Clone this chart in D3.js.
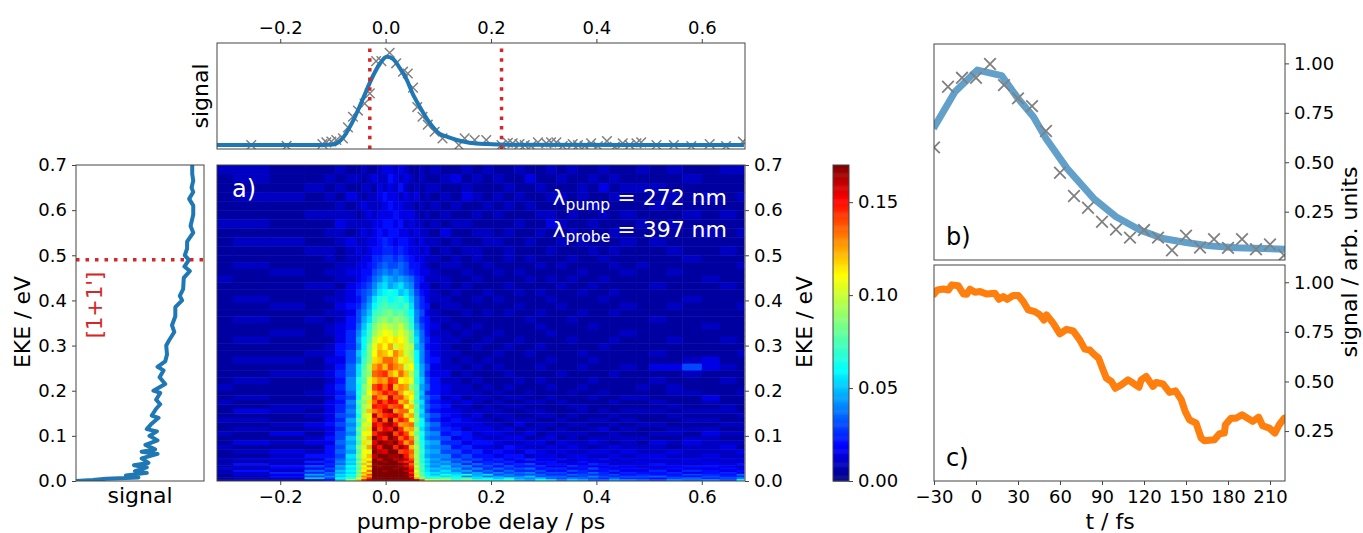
<!DOCTYPE html>
<html>
<head>
<meta charset="utf-8">
<script src="https://cdn.jsdelivr.net/npm/d3@7"></script>
<style>
  body { margin: 0; background: #fff; }
  text { font-family: "DejaVu Sans", sans-serif; fill: #000; }
  .tick text { font-size: 18px; }
  .tick line, .frame { stroke: #444; }
  .domain { display: none; }
</style>
</head>
<body>
<div id="chart"></div>
<script>
// delay trace, panel above the map (ps / norm. signal)
const fitDelay = [-0.32, -0.12, -0.1, -0.082, -0.063, -0.044, -0.025, -0.011, 0.002, 0.013, 0.027, 0.04, 0.051, 0.065, 0.078, 0.089, 0.102, 0.116, 0.135, 0.159, 0.192, 0.241, 0.68];
const fitSignal = [0, 0, 0.005, 0.075, 0.26, 0.51, 0.77, 0.92, 1, 0.98, 0.87, 0.74, 0.585, 0.43, 0.3, 0.21, 0.13, 0.095, 0.057, 0.026, 0.011, 0.004, 0];
const rawDelay = [-0.255, -0.188, -0.12, -0.1125, -0.103, -0.0935, -0.081, -0.0715, -0.062, -0.0525, -0.04, -0.03, -0.018, -0.008, 0.0076, 0.02, 0.033, 0.042, 0.052, 0.06, 0.07, 0.08, 0.093, 0.108, 0.139, 0.15, 0.169, 0.191, 0.22, 0.232, 0.241, 0.254, 0.264, 0.276, 0.289, 0.305, 0.314, 0.324, 0.336, 0.355, 0.365, 0.378, 0.39, 0.403, 0.42, 0.435, 0.45, 0.463, 0.476, 0.485, 0.514, 0.547, 0.58, 0.615, 0.646, 0.678];
const rawSignal = [0, -0.01, 0.01, 0.03, 0.04, 0.057, 0.075, 0.2, 0.32, 0.39, 0.47, 0.585, 0.95, 0.95, 1.045, 0.925, 0.83, 0.81, 0.65, 0.43, 0.32, 0.23, 0.15, 0.075, 0, 0.075, 0.057, 0.057, 0, 0.026, 0.019, 0.011, 0, -0.011, 0.03, 0.019, 0.03, 0.03, -0.011, 0.011, 0, -0.011, 0.019, -0.011, 0.045, -0.02, 0.019, 0, 0.019, 0.03, 0, 0, -0.011, 0.011, -0.011, 0.038];
const delayMarks = [-0.03, 0.22];

// energy trace, panel left of the map
const ekeValues = [0.7, 0.68, 0.665, 0.65, 0.64, 0.625, 0.61, 0.59, 0.565, 0.55, 0.53, 0.515, 0.5, 0.49, 0.475, 0.465, 0.45, 0.425, 0.41, 0.4, 0.385, 0.365, 0.345, 0.33, 0.31, 0.3, 0.28, 0.265, 0.253, 0.245, 0.23, 0.215, 0.2, 0.195, 0.18, 0.17, 0.16, 0.145, 0.14, 0.125, 0.115, 0.11, 0.1, 0.09, 0.08, 0.07, 0.065, 0.06, 0.05, 0.04, 0.035, 0.03, 0.022, 0.018, 0.012, 0.008, 0.005, 0.002, 0];
const ekeSignal = [0.908, 0.908, 0.916, 0.903, 0.916, 0.884, 0.916, 0.916, 0.895, 0.916, 0.868, 0.868, 0.85, 0.882, 0.847, 0.889, 0.842, 0.837, 0.811, 0.829, 0.776, 0.776, 0.75, 0.768, 0.724, 0.705, 0.711, 0.697, 0.637, 0.684, 0.653, 0.697, 0.605, 0.658, 0.626, 0.658, 0.626, 0.592, 0.645, 0.584, 0.553, 0.632, 0.574, 0.637, 0.542, 0.618, 0.513, 0.637, 0.513, 0.566, 0.453, 0.553, 0.461, 0.553, 0.39, 0.487, 0.237, 0.132, 0];
const ekeMark = 0.49;

// panel b
const bFitTime = [-30.4, -15, 1, 18.3, 30, 41, 50, 65, 84, 100, 117, 133.5, 150, 167, 186, 220.7];
const bFitValue = [0.671, 0.857, 0.966, 0.938, 0.823, 0.73, 0.62, 0.469, 0.317, 0.224, 0.157, 0.114, 0.094, 0.077, 0.067, 0.06];
const bRawTime = [-30, -20, -10, 0, 10, 20, 30, 40, 50, 60, 70, 80, 90, 100, 110, 120, 130, 140, 150, 160, 170, 180, 190, 200, 210, 220];
const bRawValue = [0.575, 0.882, 0.927, 0.927, 0.997, 0.89, 0.823, 0.784, 0.658, 0.447, 0.329, 0.27, 0.199, 0.16, 0.119, 0.157, 0.119, 0.055, 0.128, 0.069, 0.111, 0.067, 0.111, 0.06, 0.084, 0.03];

// panel c
const cTime = [-29.9, -27.6, -23.3, -19.7, -17.3, -12.6, -9, -6.7, -4.3, -0.7, 2.9, 7.6, 13.5, 16.4, 19.5, 22.3, 26.6, 30.2, 33.7, 37.3, 42, 45.6, 48.5, 50.4, 55.1, 59.9, 64.6, 69.4, 74.1, 77.7, 81.2, 84.8, 87.6, 90.3, 93.1, 96.7, 99.5, 103.8, 108.6, 112.1, 116.4, 118, 121.6, 126.4, 128.7, 133.5, 138.2, 142.5, 146.6, 149.4, 152.5, 157.2, 160.8, 163.2, 170.3, 173.9, 177.4, 178.1, 182.2, 185.7, 190, 194, 197.6, 201.9, 204.7, 209.5, 213.5, 216.6, 220.2];
const cValue = [0.941, 0.961, 0.966, 0.961, 0.987, 0.982, 0.941, 0.94, 0.965, 0.95, 0.953, 0.941, 0.945, 0.914, 0.928, 0.914, 0.933, 0.933, 0.903, 0.861, 0.852, 0.836, 0.81, 0.836, 0.794, 0.74, 0.763, 0.755, 0.71, 0.663, 0.659, 0.634, 0.617, 0.567, 0.517, 0.5, 0.466, 0.483, 0.508, 0.492, 0.471, 0.508, 0.525, 0.475, 0.495, 0.488, 0.445, 0.453, 0.408, 0.349, 0.307, 0.29, 0.215, 0.201, 0.206, 0.237, 0.24, 0.282, 0.315, 0.315, 0.332, 0.315, 0.299, 0.32, 0.277, 0.265, 0.24, 0.282, 0.315];

// map bins
const delayEdges = [-0.32, -0.29, -0.22, -0.154, -0.116, -0.096, -0.076, -0.056, -0.046, -0.036, -0.026, -0.016, -0.006, 0.004, 0.014, 0.024, 0.034, 0.044, 0.054, 0.064, 0.074, 0.084, 0.104, 0.124, 0.144, 0.164, 0.184, 0.204, 0.224, 0.244, 0.264, 0.284, 0.304, 0.324, 0.344, 0.364, 0.384, 0.404, 0.424, 0.444, 0.476, 0.5, 0.533, 0.563, 0.6, 0.634, 0.666, 0.68];
const energyEdges = [0.7, 0.68, 0.66, 0.64, 0.62, 0.6, 0.58, 0.56, 0.54, 0.52, 0.5, 0.485, 0.47, 0.455, 0.44, 0.425, 0.41, 0.395, 0.38, 0.365, 0.35, 0.335, 0.32, 0.305, 0.29, 0.275, 0.26, 0.245, 0.23, 0.215, 0.2, 0.19, 0.18, 0.17, 0.16, 0.15, 0.14, 0.13, 0.12, 0.11, 0.1, 0.09, 0.08, 0.07, 0.06, 0.05, 0.045, 0.04, 0.035, 0.03, 0.025, 0.02, 0.016, 0.012, 0.008, 0.004, 0];

// map values, top row first, in steps of 0.005
const mapStep = 0.005;
const mapRows = [
  [2,2,1,1,1,2,1,1,2,1,1,2,3,3,2,3,2,1,1,2,1,2,1,1,2,1,2,1,1,2,1,1,2,1,2,1,1,2,1,1,2,1,2,1,1,2,2],
  [1,2,1,1,2,1,2,2,1,2,3,2,2,4,3,2,3,2,1,2,1,1,2,3,1,2,1,2,1,1,3,1,1,2,1,1,2,1,2,1,1,1,1,2,1,1,1],
  [1,1,1,2,1,2,1,1,2,2,1,3,2,3,2,4,2,1,2,1,2,2,1,1,2,1,1,1,2,1,1,2,1,1,1,2,1,3,1,2,2,2,1,1,1,1,1],
  [1,2,2,1,2,1,3,2,1,2,2,3,4,3,3,2,3,2,3,1,2,1,2,1,3,2,1,2,1,2,1,1,2,2,1,2,1,1,2,1,1,1,2,1,2,1,2],
  [1,1,1,1,1,2,1,2,3,2,2,2,3,4,3,3,2,2,1,2,1,2,1,2,1,1,2,1,2,1,2,1,1,1,1,1,2,1,1,1,1,2,1,1,1,1,1],
  [1,1,1,2,2,2,2,1,2,3,2,3,3,3,4,3,3,3,2,1,2,1,2,1,1,2,1,2,1,1,1,2,2,1,2,1,1,2,1,2,1,1,1,2,1,2,1],
  [2,2,1,1,1,3,2,2,2,2,3,3,4,4,3,4,2,3,2,2,1,2,1,2,2,1,1,1,1,2,1,1,3,2,1,1,2,1,1,1,2,1,2,1,1,1,1],
  [1,1,1,1,2,2,1,2,3,2,3,4,3,4,4,3,3,2,3,2,2,1,3,1,1,2,2,1,2,1,1,2,1,1,2,1,1,1,2,1,1,1,1,1,2,1,2],
  [1,2,2,1,1,2,3,2,2,3,3,4,5,4,3,4,4,3,2,3,2,2,1,2,1,1,2,2,1,1,2,1,1,2,1,2,1,1,1,2,1,2,1,1,1,1,1],
  [1,1,1,2,2,1,2,3,2,3,4,4,5,5,4,5,4,3,3,2,3,1,2,1,2,2,1,1,2,1,1,1,2,1,1,1,2,1,2,1,1,1,2,1,1,2,1],
  [1,1,1,1,2,1,2,2,3,3,5,5,6,6,5,6,5,4,3,3,2,2,1,2,1,2,1,1,2,1,2,1,1,1,2,1,1,2,1,1,1,1,1,2,1,1,1],
  [1,2,1,1,1,2,2,3,3,4,5,6,7,6,6,7,6,4,4,3,2,1,2,2,1,1,2,1,1,1,1,2,1,2,1,1,1,1,2,1,2,1,1,1,1,1,2],
  [1,1,2,1,2,2,3,3,4,4,6,7,8,7,8,7,6,5,4,3,3,2,1,1,2,1,1,2,1,2,1,1,1,1,1,2,1,1,1,2,1,1,2,1,1,1,1],
  [2,1,1,1,1,2,2,3,4,5,7,8,10,9,8,9,8,7,5,4,2,2,2,1,1,2,1,1,1,1,2,1,2,1,2,1,1,2,1,1,1,1,1,1,2,1,1],
  [1,1,1,2,2,1,3,4,5,6,8,10,11,9,10,11,9,8,5,3,3,1,2,1,2,1,1,1,2,1,1,1,1,2,1,1,2,1,1,1,1,2,1,1,1,2,1],
  [1,1,1,1,1,2,3,5,6,7,9,11,12,13,12,10,11,9,6,4,3,2,1,2,1,1,2,1,1,2,1,2,1,1,1,2,1,1,2,1,1,1,1,1,1,1,1],
  [1,2,1,1,2,2,3,4,6,8,11,13,14,12,13,14,12,10,7,5,3,2,2,1,1,2,1,2,1,1,1,1,2,1,1,1,1,2,1,1,1,1,1,2,1,1,1],
  [1,1,2,1,1,3,4,5,7,9,12,14,15,14,14,13,15,11,7,5,4,1,2,2,1,1,1,1,1,2,1,1,1,2,1,1,1,1,1,2,1,1,2,1,1,1,2],
  [1,1,1,1,2,2,3,6,8,10,14,15,16,17,15,16,14,12,8,6,3,2,1,1,2,1,2,1,2,1,1,2,1,1,1,2,1,1,2,1,1,1,1,1,1,1,1],
  [1,2,1,2,1,2,4,6,9,11,15,17,18,16,18,17,16,13,8,5,4,2,2,1,1,1,1,1,1,1,2,1,1,1,2,1,1,1,1,1,1,2,1,1,1,1,1],
  [1,1,1,1,2,3,4,7,10,13,17,19,20,19,18,20,17,14,9,6,4,3,1,2,1,2,1,1,1,1,1,2,1,1,1,1,2,1,1,1,1,1,1,1,2,1,1],
  [1,1,2,1,2,3,5,8,11,14,18,20,22,21,19,21,19,16,10,7,4,2,2,1,2,1,1,2,1,1,1,1,2,1,1,1,1,1,1,2,1,1,1,1,1,1,1],
  [1,2,1,1,1,3,5,9,12,15,20,22,23,22,23,22,20,16,11,7,5,3,2,2,1,1,2,1,1,2,1,1,1,1,2,1,1,1,2,1,1,1,2,1,1,2,1],
  [1,1,1,1,2,4,5,8,12,17,21,24,22,25,20,23,20,19,10,8,4,3,2,1,1,2,1,1,2,1,1,2,1,1,1,1,1,2,1,1,1,1,1,1,1,1,1],
  [1,1,1,2,2,4,6,10,13,17,22,25,24,22,26,24,20,18,12,8,5,3,2,2,1,1,1,2,1,1,2,1,1,1,1,2,1,1,1,1,1,2,1,1,1,1,2],
  [1,2,2,1,3,3,6,9,14,17,23,24,27,27,25,21,23,19,12,8,5,4,2,1,2,1,2,1,1,1,1,1,2,1,1,1,2,1,1,1,1,1,1,2,3,1,1],
  [1,1,1,1,2,4,7,11,15,19,25,27,24,28,26,25,20,22,13,9,6,3,2,2,1,2,1,2,1,1,1,2,1,1,1,2,1,1,1,2,1,3,3,6,3,2,1],
  [1,1,2,2,3,5,7,11,16,18,27,28,29,25,23,27,24,19,14,9,5,3,3,1,2,1,1,1,2,1,1,1,1,2,1,1,1,1,2,1,1,1,1,2,1,1,1],
  [1,2,1,1,2,4,8,13,15,21,24,26,25,29,28,22,23,21,13,10,6,4,2,2,1,2,1,1,1,2,1,2,1,1,1,1,2,1,1,1,1,2,1,1,1,2,1],
  [2,1,1,1,3,5,8,12,17,20,28,30,27,31,24,26,25,18,15,9,7,4,3,2,2,1,2,1,2,1,1,1,2,1,1,2,1,1,1,1,2,1,2,1,1,1,1],
  [1,1,1,2,3,4,7,13,16,22,25,27,30,28,29,25,21,23,14,10,5,4,3,2,2,2,1,2,1,1,2,1,1,1,2,1,1,2,1,1,1,1,2,2,1,1,2],
  [1,2,1,1,2,5,6,12,19,19,29,26,25,32,27,28,24,22,15,9,7,5,2,3,1,2,2,1,2,2,1,1,2,1,1,1,2,1,1,2,2,1,1,1,3,1,1],
  [2,1,1,1,3,4,8,15,17,23,27,31,28,31,30,24,26,20,14,11,6,4,3,2,3,2,1,2,1,1,2,2,1,2,1,1,1,1,2,1,1,2,1,1,2,1,1],
  [1,1,2,2,3,5,7,13,19,20,30,29,30,27,28,29,22,24,16,10,7,5,4,2,2,1,2,1,2,2,1,1,1,1,2,2,1,1,1,1,1,1,2,1,1,2,1],
  [1,3,2,1,3,5,8,14,18,24,26,28,32,33,25,27,27,21,15,11,6,4,3,3,2,2,2,2,1,1,2,2,1,1,1,2,1,2,1,2,2,2,1,2,2,2,1],
  [1,1,1,2,3,6,7,12,20,21,32,27,29,30,31,28,23,25,16,10,8,6,4,3,2,3,1,2,2,1,1,2,2,1,2,1,1,1,2,1,1,1,2,1,1,1,2],
  [2,2,1,1,3,5,9,15,18,22,28,33,27,34,26,30,28,22,17,12,7,5,3,4,3,2,2,1,2,2,2,1,1,2,1,1,2,2,1,2,1,1,1,2,2,1,1],
  [1,1,2,3,4,6,8,13,21,20,31,29,32,33,30,25,26,27,15,12,9,7,4,3,3,3,2,2,1,3,1,2,2,1,2,2,1,1,2,1,2,2,1,1,1,2,2],
  [1,2,1,2,3,5,9,16,19,23,33,28,31,30,34,29,24,25,18,11,8,6,5,4,2,3,3,2,3,1,2,2,1,2,1,1,2,3,1,2,1,1,2,2,2,1,1],
  [2,1,3,1,3,6,8,14,22,21,29,32,33,35,28,31,28,23,16,13,9,8,4,5,4,2,3,3,2,2,3,1,2,2,2,2,1,1,2,1,1,2,2,1,3,2,2],
  [1,1,1,2,4,6,10,16,20,24,34,31,29,34,32,27,30,26,18,12,8,7,6,3,4,3,2,2,3,3,1,2,3,1,2,1,2,2,2,2,2,1,1,2,2,1,1],
  [1,3,2,3,3,7,9,14,23,20,31,34,33,32,35,30,25,28,17,13,10,9,5,5,3,4,4,3,2,2,3,3,1,3,2,2,3,2,1,2,1,3,2,3,2,2,2],
  [2,1,1,1,4,6,10,17,20,25,33,30,35,34,29,33,31,24,19,13,9,8,7,4,5,3,3,2,4,3,2,2,3,2,3,2,1,2,3,2,2,2,1,2,2,3,1],
  [1,2,3,2,4,7,9,15,22,21,35,32,31,35,34,28,29,27,18,14,10,9,6,6,4,5,3,4,3,2,4,3,2,3,2,2,3,3,2,3,2,2,3,2,2,2,3],
  [1,1,2,4,4,6,11,17,21,24,32,34,35,33,33,35,30,26,19,13,9,8,8,5,6,4,4,3,4,4,2,3,3,2,3,3,2,2,3,2,3,3,2,2,3,2,2],
  [2,3,3,2,5,7,10,14,23,22,35,31,34,35,32,33,32,28,18,14,11,9,7,7,5,6,4,5,3,4,5,3,3,4,2,3,3,4,2,3,2,3,3,3,2,3,3],
  [1,1,2,5,4,8,11,18,20,25,34,35,33,34,35,31,29,30,20,13,10,8,9,6,7,4,5,4,5,3,3,4,4,2,3,4,3,2,3,2,3,2,2,3,3,2,2],
  [2,4,2,3,5,7,10,15,24,21,33,34,35,35,34,35,33,27,17,15,11,9,8,8,5,7,5,6,4,5,6,3,4,4,3,3,5,4,2,3,3,4,3,2,3,3,4],
  [1,2,4,6,4,9,12,17,21,26,35,33,35,34,35,33,31,29,21,14,10,8,10,7,8,5,6,4,6,4,4,5,3,3,5,4,3,3,4,3,2,3,3,4,4,3,2],
  [3,2,3,4,6,8,11,15,23,22,34,35,35,35,33,35,34,30,18,15,11,10,9,9,6,8,5,7,5,6,7,4,5,5,3,4,6,4,3,4,4,3,4,3,3,4,3],
  [1,4,2,7,5,10,12,18,22,27,35,34,33,35,35,35,32,31,22,14,11,9,11,8,9,6,7,5,7,5,5,6,4,4,6,5,4,4,5,3,3,5,3,5,4,3,4],
  [2,2,5,5,7,9,11,15,25,23,35,35,35,35,35,34,35,29,19,16,12,11,10,10,7,9,6,8,6,7,8,5,6,6,4,5,7,5,3,5,4,4,5,3,4,5,3],
  [1,3,3,9,6,11,13,19,23,28,35,35,35,35,35,35,33,32,23,15,12,10,13,11,13,9,11,6,8,6,6,7,5,5,7,6,5,5,6,4,5,4,4,6,5,4,7],
  [1,1,4,6,8,10,12,16,26,25,35,35,35,35,35,35,35,30,20,17,13,12,11,12,8,10,7,9,7,8,10,6,7,7,5,6,8,6,5,6,6,7,5,4,6,5,5],
  [1,2,2,10,6,12,14,20,24,30,35,35,35,35,35,35,35,33,25,17,13,14,16,13,15,11,12,10,12,9,8,10,7,6,8,7,6,5,7,5,5,4,6,7,5,6,8],
  [1,1,1,2,4,10,18,24,30,33,35,35,35,35,35,35,35,35,34,28,22,20,18,15,16,14,13,12,14,10,9,12,11,8,10,9,7,7,9,8,7,6,8,7,8,6,12],
];

const delayTicks = [-0.2, 0, 0.2, 0.4, 0.6];
const ekeTicks = [0, 0.1, 0.2, 0.3, 0.4, 0.5, 0.6, 0.7];
const barTicks = [0, 0.05, 0.1, 0.15];
const timeTicks = [-30, 0, 30, 60, 90, 120, 150, 180, 210];
const unitTicks = [0.25, 0.5, 0.75, 1];

const jetStops = ['#00007f', '#0000ff', '#00ffff', '#7fff7f', '#ffff00', '#ff0000', '#7f0000'];
const jetAt = [0, 0.11, 0.35, 0.5, 0.65, 0.89, 1];

const width = 1363;
const height = 533;
const blue = '#1f77b4';
const orange = '#ff7f0e';
const red = '#d62728';
const gray = '#808080';

const svg = d3
  .select('#chart')
  .append('svg')
  .attr('width', width)
  .attr('height', height)
  .style('display', 'block');

const jet = d3
  .scaleLinear()
  .domain(jetAt.map((d) => d * 0.17))
  .range(jetStops)
  .clamp(true);

// Scales
const xDelay = d3.scaleLinear().domain([-0.32, 0.682]).range([217, 745]);
const yEke = d3.scaleLinear().domain([0, 0.7]).range([481, 165]);
const xTrace = d3.scaleLinear().domain([0, 1]).range([76, 204]);
const yTop = d3.scaleLinear().domain([-0.045, 1.155]).range([149, 43]);
const xTime = d3.scaleLinear().domain([-30, 220.7]).range([934, 1285]);
const yB = d3.scaleLinear().domain([0.0056, 1.098]).range([260, 44]);
const yC = d3.scaleLinear().domain([-0.0016, 1.087]).range([481, 265]);
const yBar = d3.scaleLinear().domain([0, 0.17]).range([481, 165]);

function addClip(id, x, y, w, h) {
  svg.append('clipPath').attr('id', id).append('rect')
    .attr('x', x).attr('y', y).attr('width', w).attr('height', h);
}

function addFrame(x, y, w, h) {
  svg.append('rect').attr('class', 'frame')
    .attr('x', x).attr('y', y).attr('width', w).attr('height', h)
    .attr('fill', 'none').attr('stroke-width', 1);
}

function addAxis(axis, x, y) {
  svg.append('g').attr('transform', `translate(${x},${y})`).call(axis);
}

function addLabel(txt, x, y, size, rotate) {
  const t = svg.append('text')
    .attr('text-anchor', 'middle')
    .attr('font-size', size)
    .text(txt);
  if (rotate) t.attr('transform', `translate(${x},${y}) rotate(-90)`);
  else t.attr('x', x).attr('y', y);
  return t;
}

addClip('clipTop', 217, 43, 528, 106);
addClip('clipMain', 217, 165, 528, 316);
addClip('clipLeft', 76, 165, 128, 316);
addClip('clipB', 934, 44, 351, 216);
addClip('clipC', 934, 265, 351, 216);

// the source picture is slightly soft, map included
svg.append('filter').attr('id', 'soft')
  .append('feGaussianBlur').attr('stdDeviation', 0.45);

// Main map
const cells = mapRows.flatMap((row, i) =>
  row.map((v, j) => ({
    x0: delayEdges[j],
    x1: delayEdges[j + 1],
    y0: energyEdges[i],
    y1: energyEdges[i + 1],
    value: v * mapStep,
  })),
);

svg.append('g')
  .attr('clip-path', 'url(#clipMain)')
  .append('g')
  .attr('filter', 'url(#soft)')
  .selectAll('rect')
  .data(cells)
  .enter()
  .append('rect')
  .attr('x', (d) => xDelay(d.x0))
  .attr('y', (d) => yEke(d.y0))
  .attr('width', (d) => xDelay(d.x1) - xDelay(d.x0) + 0.5)
  .attr('height', (d) => yEke(d.y1) - yEke(d.y0) + 0.5)
  .attr('fill', (d) => jet(d.value));

addFrame(217, 165, 528, 316);
addAxis(d3.axisBottom(xDelay).tickValues(delayTicks).tickFormat(d3.format('.1f')).tickSize(4).tickPadding(5), 0, 481);
addAxis(d3.axisRight(yEke).tickValues(ekeTicks).tickFormat(d3.format('.1f')).tickSize(4).tickPadding(5), 745, 0);
addLabel('pump-probe delay / ps', 481, 529, 22);
addLabel('EKE / eV', 812, 322, 22, true);

svg.append('text').attr('x', 232).attr('y', 197).attr('font-size', 24)
  .style('fill', '#fff').text('a)');

const lambdaRows = [
  { sub: 'pump', rest: ' = 272 nm', y: 205 },
  { sub: 'probe', rest: ' = 397 nm', y: 237 },
];
lambdaRows.forEach((d) => {
  const t = svg.append('text').attr('x', 727).attr('y', d.y)
    .attr('text-anchor', 'end').attr('font-size', 22).style('fill', '#fff');
  t.append('tspan').style('fill', '#fff').text('λ');
  t.append('tspan').style('fill', '#fff').attr('dy', 5).attr('font-size', 15.5).text(d.sub);
  t.append('tspan').style('fill', '#fff').attr('dy', -5).text(d.rest);
});

// Top panel
const lineTop = d3.line()
  .x((d) => xDelay(d[0]))
  .y((d) => yTop(d[1]))
  .curve(d3.curveMonotoneX);

const gTop = svg.append('g').attr('clip-path', 'url(#clipTop)');
gTop.selectAll('path.raw')
  .data(d3.zip(rawDelay, rawSignal))
  .enter()
  .append('path')
  .attr('class', 'raw')
  .attr('d', d3.symbol(d3.symbolTimes, 62))
  .attr('transform', (d) => `translate(${xDelay(d[0])},${yTop(d[1])})`)
  .attr('fill', 'none')
  .attr('stroke', gray)
  .attr('stroke-width', 1.5);
gTop.append('path')
  .attr('d', lineTop(d3.zip(fitDelay, fitSignal)))
  .attr('fill', 'none')
  .attr('stroke', blue)
  .attr('stroke-width', 4);
gTop.selectAll('line.mark')
  .data(delayMarks)
  .enter()
  .append('line')
  .attr('class', 'mark')
  .attr('x1', (d) => xDelay(d))
  .attr('x2', (d) => xDelay(d))
  .attr('y1', 149)
  .attr('y2', 43)
  .attr('stroke', red)
  .attr('stroke-width', 3.5)
  .attr('stroke-dasharray', '3.5 6.2');

addFrame(217, 43, 528, 106);
addAxis(d3.axisTop(xDelay).tickValues(delayTicks).tickFormat(d3.format('.1f')).tickSize(4).tickPadding(5), 0, 43);
addLabel('signal', 208, 96, 22, true);

// Left panel
const lineLeft = d3.line()
  .x((d) => xTrace(d[1]))
  .y((d) => yEke(d[0]));

const gLeft = svg.append('g').attr('clip-path', 'url(#clipLeft)');
gLeft.append('path')
  .attr('d', lineLeft(d3.zip(ekeValues, ekeSignal)))
  .attr('fill', 'none')
  .attr('stroke', blue)
  .attr('stroke-width', 4)
  .attr('stroke-linejoin', 'round');
gLeft.append('line')
  .attr('x1', 76)
  .attr('x2', 204)
  .attr('y1', yEke(ekeMark))
  .attr('y2', yEke(ekeMark))
  .attr('stroke', red)
  .attr('stroke-width', 3.5)
  .attr('stroke-dasharray', '3.5 6');

addFrame(76, 165, 128, 316);
addAxis(d3.axisLeft(yEke).tickValues(ekeTicks).tickFormat(d3.format('.1f')).tickSize(4).tickPadding(5), 76, 0);
addLabel('signal', 140, 503, 22);
addLabel('EKE / eV', 30, 322, 22, true);
addLabel("[1+1']", 102, 305, 21, true).style('fill', red);

// Colour bar
const barSteps = d3.range(0, 0.17, 0.0005);
svg.append('g')
  .selectAll('rect')
  .data(barSteps)
  .enter()
  .append('rect')
  .attr('x', 833)
  .attr('y', (d) => yBar(d + 0.0005))
  .attr('width', 16)
  .attr('height', (d) => yBar(d) - yBar(d + 0.0005) + 0.5)
  .attr('fill', (d) => jet(d));
addFrame(833, 165, 16, 316);
addAxis(d3.axisRight(yBar).tickValues(barTicks).tickFormat(d3.format('.2f')).tickSize(4).tickPadding(5), 849, 0);

// Panel b
const lineB = d3.line().x((d) => xTime(d[0])).y((d) => yB(d[1]));
const gB = svg.append('g').attr('clip-path', 'url(#clipB)');
gB.append('path')
  .attr('d', lineB(d3.zip(bFitTime, bFitValue)))
  .attr('fill', 'none')
  .attr('stroke', blue)
  .attr('stroke-opacity', 0.7)
  .attr('stroke-width', 7)
  .attr('stroke-linejoin', 'round');
gB.selectAll('path.raw')
  .data(d3.zip(bRawTime, bRawValue))
  .enter()
  .append('path')
  .attr('class', 'raw')
  .attr('d', d3.symbol(d3.symbolTimes, 90))
  .attr('transform', (d) => `translate(${xTime(d[0])},${yB(d[1])})`)
  .attr('fill', 'none')
  .attr('stroke', gray)
  .attr('stroke-width', 1.8);
addFrame(934, 44, 351, 216);
addAxis(d3.axisRight(yB).tickValues(unitTicks).tickFormat(d3.format('.2f')).tickSize(4).tickPadding(5), 1285, 0);
svg.append('text').attr('x', 946).attr('y', 245).attr('font-size', 24).text('b)');

// Panel c
const lineC = d3.line().x((d) => xTime(d[0])).y((d) => yC(d[1]));
svg.append('path')
  .attr('clip-path', 'url(#clipC)')
  .attr('d', lineC(d3.zip(cTime, cValue)))
  .attr('fill', 'none')
  .attr('stroke', orange)
  .attr('stroke-width', 7)
  .attr('stroke-linejoin', 'round')
  .attr('stroke-linecap', 'round');
addFrame(934, 265, 351, 216);
addAxis(d3.axisRight(yC).tickValues(unitTicks).tickFormat(d3.format('.2f')).tickSize(4).tickPadding(5), 1285, 0);
addAxis(d3.axisBottom(xTime).tickValues(timeTicks).tickFormat(d3.format('d')).tickSize(4).tickPadding(5), 0, 481);
svg.append('text').attr('x', 946).attr('y', 466).attr('font-size', 24).text('c)');

addLabel('t / fs', 1110, 529, 22);
addLabel('signal / arb. units', 1357, 262, 22, true);
</script>
</body>
</html>
